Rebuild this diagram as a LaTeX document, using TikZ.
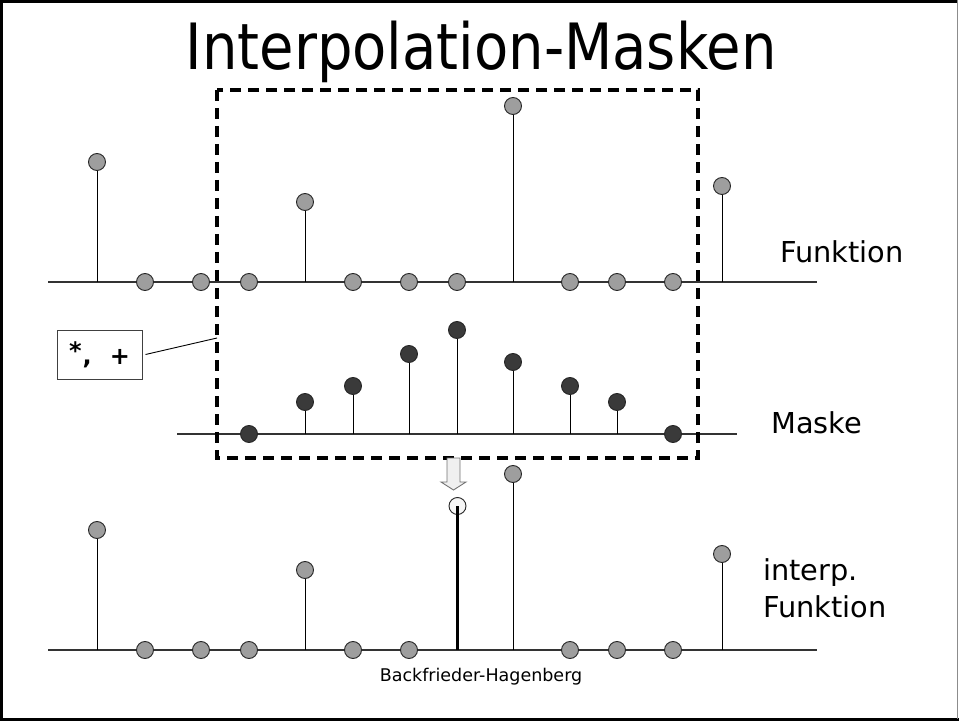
\documentclass[tikz,border=0pt]{standalone}
\usepackage{fontspec}
\setmainfont{DejaVu Sans}
\begin{document}
\begin{tikzpicture}[x=1pt,y=-1pt,
  sample/.style={circle,draw=black!85,line width=0.9pt,fill=sampgray,minimum size=17pt,inner sep=0pt},
  masksample/.style={sample,fill=maskdark},
  newsample/.style={sample,fill=newfill},
  stem/.style={draw=black,line width=0.85pt},
  thickstem/.style={draw=black,line width=2.8pt},
  axis/.style={draw=black!80,line width=1.1pt},
  label/.style={font=\fontsize{28.8}{34}\selectfont,anchor=base west,inner sep=0pt},
  opbox/.style={draw=black!75,line width=1pt,minimum width=85pt,minimum height=49pt,inner sep=0pt,fill=white},
  window/.style={draw=black,line width=3.3pt,dash pattern=on 11pt off 7pt},
  hollowarrow/.style={draw=black!55,line width=0.9pt,fill=black!6},
]
\definecolor{sampgray}{RGB}{158,158,158}
\definecolor{maskdark}{RGB}{58,58,58}
\definecolor{newfill}{RGB}{246,246,246}
\useasboundingbox (0,0) rectangle (959,722);

% slide frame
\draw[line width=3pt] (957,1.5) -- (1.5,1.5) -- (1.5,719.5) -- (959,719.5);
\draw[black!45,line width=1.2pt] (957.6,0) -- (957.6,719);

% title
\node[anchor=base,inner sep=0pt] (title) at (481,70)
  {\scalebox{1}[1.14]{\fontsize{56}{60}\selectfont Interpolation-Masken}};

% --- original function (baseline y=282)
\coordinate (fL) at (48,282);
\coordinate (fR) at (817,282);
\draw[axis] (fL) -- (fR);
\foreach \x/\y [count=\i] in {97/162,145/282,201/282,249/282,305/202,353/282,409/282,457/282,513/106,570/282,617/282,673/282,722/186}{
  \coordinate (fb\i) at (\x,282);
  \ifdim \y pt<282pt \draw[stem] (fb\i) -- (\x,\y); \fi
  \node[sample] (f\i) at (\x,\y) {};
}
\node[label] (lf) at (780,262) {Funktion};

% --- mask (baseline y=434)
\coordinate (mL) at (177,434);
\coordinate (mR) at (737,434);
\draw[axis] (mL) -- (mR);
\foreach \x/\y [count=\i] in {249/434,305/402,353/386,409/354,457/330,513/362,570/386,617/402,673/434}{
  \coordinate (mb\i) at (\x,434);
  \ifdim \y pt<434pt \draw[stem] (mb\i) -- (\x,\y); \fi
  \node[masksample] (m\i) at (\x,\y) {};
}
\node[label] (lm) at (771,433) {Maske};

% sliding window
\draw[window] (217,90) rectangle (698,458);
\coordinate (win) at (217,338);

% operation box
\node[opbox,font=\bfseries\fontsize{24}{28}\selectfont] (op) at (99.5,354.5) {\raisebox{5pt}{*}\hspace{1pt},\hspace{18pt}+};
\draw[black,line width=0.9pt] (op.east) ++(3,0) coordinate (opx) -- (win);

% --- interpolated function (baseline y=650)
\coordinate (iL) at (48,650);
\coordinate (iR) at (817,650);
\draw[axis] (iL) -- (iR);
\foreach \x/\y [count=\i] in {97/530,145/650,201/650,249/650,305/570,353/650,409/650,513/474,570/650,617/650,673/650,722/554}{
  \coordinate (ib\i) at (\x,650);
  \ifdim \y pt<650pt \draw[stem] (ib\i) -- (\x,\y); \fi
  \node[sample] (i\i) at (\x,\y) {};
}
\node[newsample] (inew) at (457.5,506) {};
\coordinate (inewb) at (457.5,650);
\draw[thickstem] (inew.center) -- (inewb);

% result arrow
\draw[hollowarrow] (447,458) -- (460,458) -- (460,482) -- (466,482) -- (453.5,490) -- (441,482) -- (447,482) -- cycle;

\node[label] (li1) at (763,580) {interp.};
\node[label] (li2) at (763,617) {Funktion};

\node[font=\fontsize{17.5}{20}\selectfont,anchor=base,inner sep=0pt] (credit) at (481,681) {Backfrieder-Hagenberg};
\end{tikzpicture}
\end{document}
